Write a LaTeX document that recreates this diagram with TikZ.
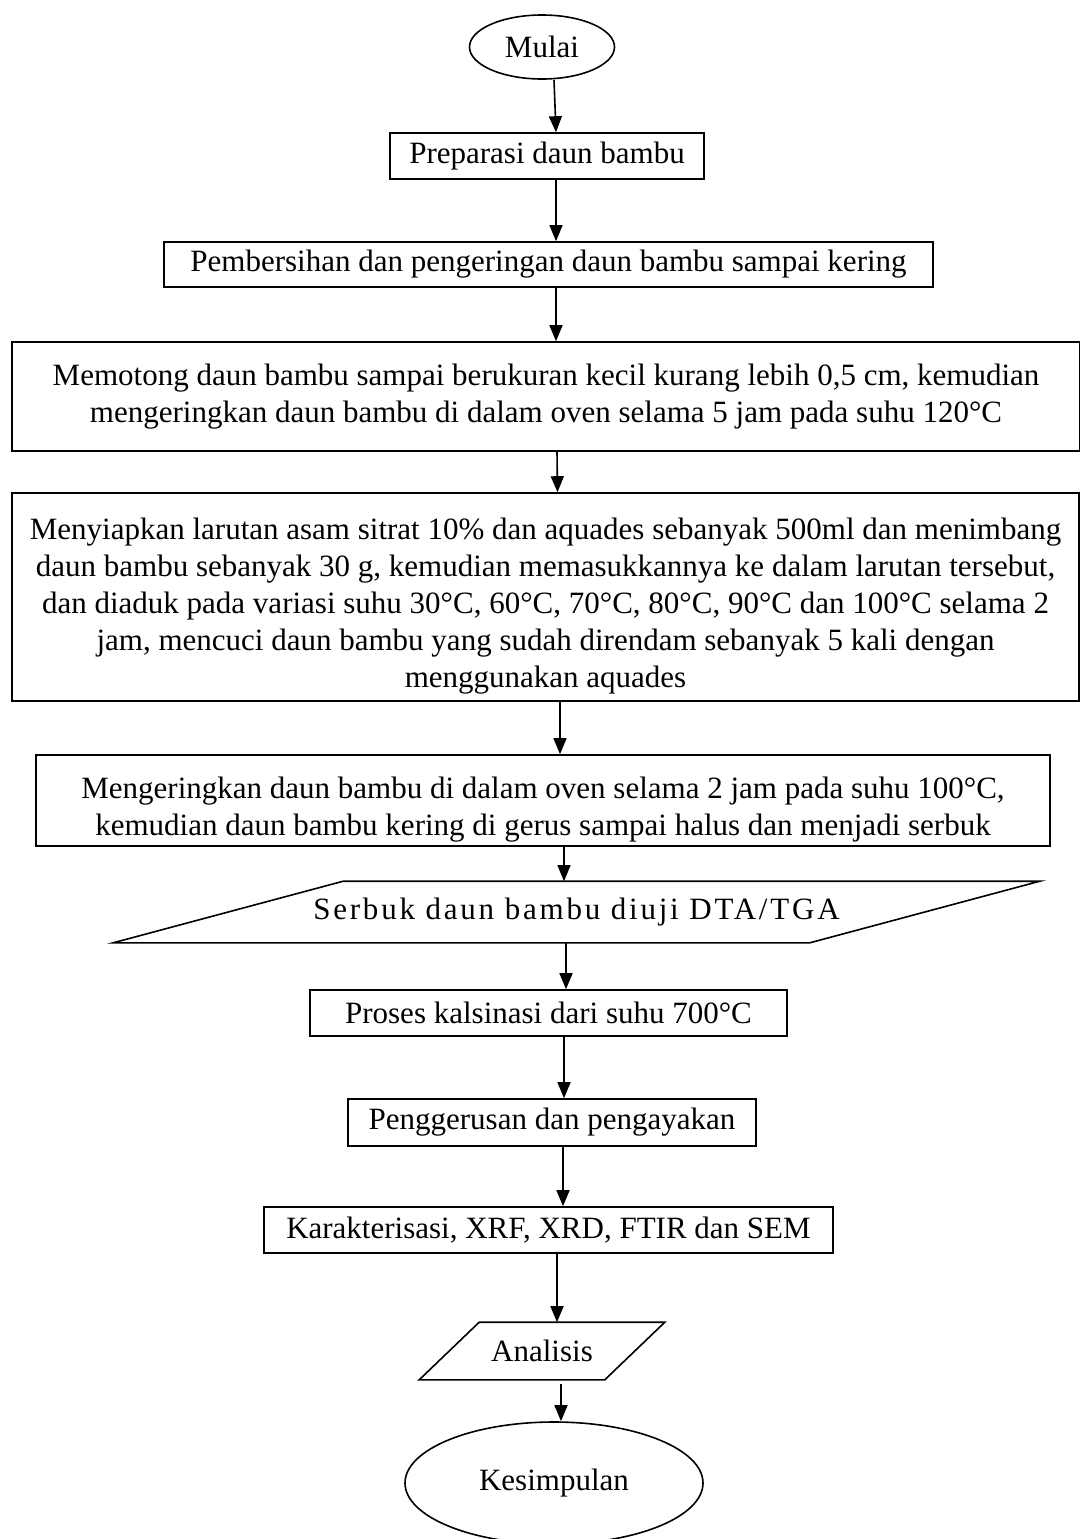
\documentclass[tikz,border=0pt]{standalone}
\usepackage{fontspec}
\setmainfont{Liberation Serif}
\usepackage{tikz}
\usetikzlibrary{arrows.meta, shapes.geometric, positioning}

\begin{document}
\begin{tikzpicture}[x=1pt, y=-1pt, line width=1.6pt, font=\fontsize{31}{37}\selectfont]
    \tikzstyle{stepbox}=[draw, rectangle, inner sep=0pt, align=center]
    \tikzstyle{terminal}=[draw, ellipse, inner sep=0pt]
    \tikzstyle{datain}=[rectangle, inner sep=0pt, align=center]
    \tikzstyle{flow}=[-{Triangle[length=16pt,width=13pt]}]
    \edef\slantserbuk{230pt}
    \edef\slantanalisis{60pt}
    \useasboundingbox (0,0) rectangle (1079,1539);

    \node [terminal, minimum width=145pt, minimum height=64pt] (mulai) at (542,47) {Mulai};
    \node [stepbox, minimum width=314pt, minimum height=46pt] (prep) at (547,156) {Preparasi daun bambu};
    \node [stepbox, minimum width=769pt, minimum height=45pt] (bersih) at (548.5,264.5) {Pembersihan dan pengeringan daun bambu sampai kering};
    \node [stepbox, minimum width=1068pt, minimum height=109pt] (potong) at (546,396.5)
        {Memotong daun bambu sampai berukuran kecil kurang lebih 0,5 cm, kemudian\\
         mengeringkan daun bambu di dalam oven selama 5 jam pada suhu 120°C};
    \node [stepbox, minimum width=1067pt, minimum height=208pt] (siapkan) at (545.5,597)
        {\rule{0pt}{40pt}Menyiapkan larutan asam sitrat 10\% dan aquades sebanyak 500ml dan menimbang\\
         daun bambu sebanyak 30 g, kemudian memasukkannya ke dalam larutan tersebut,\\
         dan diaduk pada variasi suhu 30°C, 60°C, 70°C, 80°C, 90°C dan 100°C selama 2\\
         jam, mencuci daun bambu yang sudah direndam sebanyak 5 kali dengan\\
         menggunakan aquades};
    \node [stepbox, minimum width=1014pt, minimum height=91pt] (keringkan) at (543,800.5)
        {\rule{0pt}{40pt}Mengeringkan daun bambu di dalam oven selama 2 jam pada suhu 100°C,\\
         kemudian daun bambu kering di gerus sampai halus dan menjadi serbuk};
    \node [datain, minimum width=925pt, minimum height=60pt] (serbuk) at (576.5,912)
        {\addfontfeature{LetterSpace=9}Serbuk daun bambu diuji DTA/TGA};
    \draw ([xshift=\slantserbuk]serbuk.north west) -- (serbuk.north east)
        -- ([xshift=-\slantserbuk]serbuk.south east) -- (serbuk.south west) -- cycle;
    \node [stepbox, minimum width=477pt, minimum height=46pt] (kalsinasi) at (548.5,1013) {Proses kalsinasi dari suhu 700°C};
    \node [stepbox, minimum width=408pt, minimum height=47pt] (gerus) at (552,1122.5) {Penggerusan dan pengayakan};
    \node [stepbox, minimum width=569pt, minimum height=46pt] (karakter) at (548.5,1230) {Karakterisasi, XRF, XRD, FTIR dan SEM};
    \node [datain, minimum width=244pt, minimum height=56pt] (analisis) at (542,1351) {Analisis};
    \draw ([xshift=\slantanalisis]analisis.north west) -- (analisis.north east)
        -- ([xshift=-\slantanalisis]analisis.south east) -- (analisis.south west) -- cycle;
    \node [terminal, minimum width=298pt, minimum height=122pt] (kesimpulan) at (554,1483) {Kesimpulan};

    \draw [flow] ([xshift=12pt]mulai.south) -- ([xshift=9pt]prep.north);
    \draw [flow] ([xshift=9pt]prep.south) -- ([xshift=7.5pt]bersih.north);
    \draw [flow] ([xshift=7.5pt]bersih.south) -- ([xshift=10pt]potong.north);
    \draw [flow] ([xshift=11pt]potong.south) -- ([xshift=12pt]siapkan.north);
    \draw [flow] ([xshift=14.5pt]siapkan.south) -- ([xshift=17pt]keringkan.north);
    \draw [flow] ([xshift=21pt]keringkan.south) -- ([xshift=-12.5pt]serbuk.north);
    \draw [flow] ([xshift=-10.5pt]serbuk.south) -- ([xshift=17.5pt]kalsinasi.north);
    \draw [flow] ([xshift=15.5pt]kalsinasi.south) -- ([xshift=12pt]gerus.north);
    \draw [flow] ([xshift=11pt]gerus.south) -- ([xshift=14.5pt]karakter.north);
    \draw [flow] ([xshift=8.5pt]karakter.south) -- ([xshift=15pt]analisis.north);
    \draw [flow] ([xshift=19pt,yshift=-4pt]analisis.south) -- ([xshift=7pt]kesimpulan.north);
\end{tikzpicture}
\end{document}
